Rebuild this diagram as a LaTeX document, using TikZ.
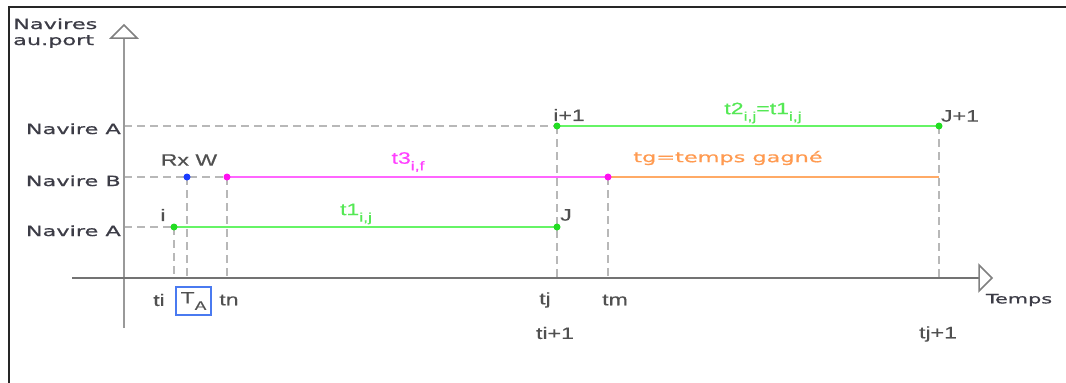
\documentclass[tikz,border=0pt]{standalone}
\usepackage{fontspec}
\setmainfont{Liberation Sans}
\newfontfamily\plainlbl[FakeStretch=1.4,FakeBold=0.4]{Liberation Sans}
\newfontfamily\widelbl[FakeStretch=1.6,FakeBold=0.8]{DejaVu Sans}
\newcommand\lowsub[1]{\raisebox{-0.75ex}{\fontsize{12.5}{12.5}\selectfont #1}}

\definecolor{lgreen}{HTML}{66F466}
\definecolor{dgreen}{HTML}{22DD22}
\definecolor{tgreen}{HTML}{55E855}
\definecolor{lmag}{HTML}{FF66FF}
\definecolor{dmag}{HTML}{FF10F0}
\definecolor{tmag}{HTML}{FF40FF}
\definecolor{lorange}{HTML}{FFAA66}
\definecolor{torange}{HTML}{FF9A50}
\definecolor{dblue}{HTML}{1A3CFF}
\definecolor{boxblue}{HTML}{4A7AF0}
\definecolor{labelgray}{HTML}{3C3C46}
\definecolor{textgray}{HTML}{505050}

\tikzset{
  frame/.style={line width=2pt, draw=black!85},
  guide/.style={draw=black!28, line width=2pt, dash pattern=on 8pt off 5pt},
  yaxisline/.style={draw=black!40, line width=2.8pt},
  xaxisline/.style={draw=black!55, line width=2pt},
  tiphead/.style={draw=black!50, line width=1.5pt, fill=white, line join=miter},
  seg/.style={line width=2.2pt},
  pt/.style={circle, fill=#1, inner sep=0pt, minimum size=7pt},
  axlbl/.style={font=\widelbl\fontsize{14}{16}\selectfont, text=labelgray, inner sep=0pt},
  lbl/.style={font=\plainlbl\fontsize{16.5}{18}\selectfont, text=textgray, inner sep=0pt},
}

\begin{document}
\begin{tikzpicture}[x=1pt,y=-1pt]
\useasboundingbox (0,0) rectangle (1066,383);

% outer frame (left and top edges)
\draw[frame] (9,383) -- (9,7) -- (1066,7);

% key instants
\coordinate (pi)  at (174,227);
\coordinate (prx) at (187,177);
\coordinate (pw)  at (227,177);
\coordinate (pj)  at (557,227);
\coordinate (pi1) at (557,126);
\coordinate (pm)  at (608,177);
\coordinate (pj1) at (939,126);
\coordinate (pe)  at (939,177);

% axis feet
\coordinate (yA) at (124,126);
\coordinate (yB) at (124,177);
\coordinate (yC) at (124,227);
\coordinate (xi)  at (174,278);
\coordinate (xrx) at (187,278);
\coordinate (xw)  at (227,278);
\coordinate (xj)  at (557,278);
\coordinate (xm)  at (608,278);
\coordinate (xj1) at (939,278);

% guide lines
\draw[guide] (yA) -- (pi1);
\draw[guide] (yB) -- (pw);
\draw[guide] (yC) -- (pi);
\draw[guide] (pi) -- (xi);
\draw[guide] (prx) -- (xrx);
\draw[guide] (pw) -- (xw);
\draw[guide] (pi1) -- (xj);
\draw[guide] (pm) -- (xm);
\draw[guide] (pj1) -- (xj1);

% axes
\coordinate (ybot) at (124,328);
\coordinate (ytop) at (124,38);
\coordinate (xleft) at (72,278);
\coordinate (xright) at (979,278);
\draw[yaxisline] (ybot) -- (ytop);
\draw[xaxisline] (xleft) -- (xright);
\draw[tiphead] (ytop) ++(-13,0) -- ++(13,-13) -- ++(13,13) -- cycle;
\draw[tiphead] (xright) ++(0,-13) -- ++(13,13) -- ++(-13,13) -- cycle;

% durations
\draw[seg, draw=lgreen] (pi) -- (pj);
\draw[seg, draw=lgreen] (pi1) -- (pj1);
\draw[seg, draw=lmag] (pw) -- (pm);
\draw[seg, draw=lorange] (pm) -- (pe);

% event points
\node[pt=dgreen] (ni)  at (pi)  {};
\node[pt=dgreen] (nj)  at (pj)  {};
\node[pt=dgreen] (ni1) at (pi1) {};
\node[pt=dgreen] (nj1) at (pj1) {};
\node[pt=dblue]  (nrx) at (prx) {};
\node[pt=dmag]   (nw)  at (pw)  {};
\node[pt=dmag]   (nm)  at (pm)  {};

% axis titles
\node[axlbl, anchor=base west] (ttl1) at (13,29) {Navires};
\node[axlbl, anchor=base west] (ttl2) at (13,45) {au.port};
\node[axlbl, anchor=base east] (lA) at (121,134) {Navire A};
\node[axlbl, anchor=base east] (lB) at (121,186) {Navire B};
\node[axlbl, anchor=base east] (lC) at (121,236) {Navire A};
\node[axlbl, font=\widelbl\fontsize{13}{15}\selectfont] (ltemps) at (1019,300) {Temps};

% point labels
\node[lbl] (ti_lbl) at (163,215) {i};
\node[lbl] (rxw) at (189,160) {Rx W};
\node[lbl, anchor=west] (jl) at (560,215) {J};
\node[lbl] (i1l) at (569,115) {i+1};
\node[lbl] (j1l) at (960,116) {J+1};

% duration labels
\node[lbl, text=tgreen] (t1l) at (356,214) {t1\lowsub{i,j}};
\node[lbl, text=tmag] (t3l) at (408,162) {t3\lowsub{i,f}};
\node[lbl, text=tgreen] (t2l) at (763,113) {t2\lowsub{i,j}=t1\lowsub{i,j}};
\node[axlbl, text=torange] (tgl) at (728,158) {tg=temps gagné};

% time axis labels
\node[lbl] (xti) at (159,300) {ti};
\node[lbl, draw=boxblue, line width=1.4pt, minimum width=35pt, minimum height=28pt] (xta) at (193.5,301) {T\lowsub{A}};
\node[lbl] (xtn) at (229,300) {tn};
\node[lbl] (xtj) at (545,300) {tj};
\node[lbl] (xtm) at (615,300) {tm};
\node[lbl] (xti1) at (555,333) {ti+1};
\node[lbl] (xtj1) at (938,334) {tj+1};
\end{tikzpicture}
\end{document}
